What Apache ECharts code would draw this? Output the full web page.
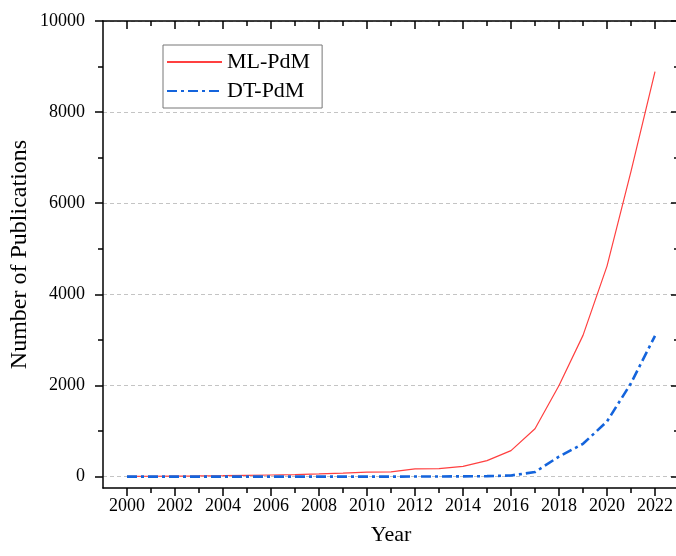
<!DOCTYPE html>
<html>
<head>
<meta charset="utf-8">
<script src="https://cdn.jsdelivr.net/npm/echarts@6/dist/echarts.min.js"></script>
<style>
html,body{margin:0;padding:0;background:#fff;}
#chart{width:676px;height:556px;}
</style>
</head>
<body>
<div id="chart"></div>
<script>
var years = [2000,2001,2002,2003,2004,2005,2006,2007,2008,2009,2010,2011,2012,2013,2014,2015,2016,2017,2018,2019,2020,2021,2022];
var mlPdM = [5,8,12,15,20,28,35,45,60,78,100,105,170,175,225,350,570,1050,2000,3100,4620,6700,8890];
var dtPdM = [0,0,0,0,0,0,0,0,0,0,0,0,2,3,5,10,25,100,440,720,1210,2050,3090];
var xMajorTicks = [2000,2002,2004,2006,2008,2010,2012,2014,2016,2018,2020,2022];
var xMinorTicks = [2001,2003,2005,2007,2009,2011,2013,2015,2017,2019,2021];
var yMajorTicks = [0,2000,4000,6000,8000,10000];
var yMinorTicks = [1000,3000,5000,7000,9000];

var FONT = '"Liberation Serif", "DejaVu Serif", serif';
var BLACK = '#000';

function pairs(xs, ys){ return xs.map(function(x,i){ return [x, ys[i]]; }); }
function plain(v){ return String(v); }

function xAxisDef(pos, ticks, len, inside, main){
  return {
    type:'value', gridIndex:0, position:pos, min:1999, max:2023,
    axisLine:{show:!!main, onZero:false, lineStyle:{color:BLACK,width:1.5}},
    axisTick:{show:true, inside:inside, length:len, customValues:ticks, lineStyle:{color:BLACK,width:1.5}},
    axisLabel: (main && pos==='bottom') ? {show:true, customValues:ticks, formatter:plain, color:BLACK, fontFamily:FONT, fontSize:18, margin:9} : {show:false},
    splitLine:{show:false},
    name: (main && pos==='bottom') ? 'Year' : '',
    nameLocation:'middle', nameGap:36, nameMoveOverlap:false,
    nameTextStyle:{color:BLACK, fontFamily:FONT, fontSize:22}
  };
}
function yAxisDef(pos, ticks, len, inside, main){
  var isLeftMain = main && pos==='left';
  return {
    type:'value', gridIndex:0, position:pos, min:-250, max:10000,
    axisLine:{show:!!main, onZero:false, lineStyle:{color:BLACK,width:1.5}},
    axisTick:{show:true, inside:inside, length:len, customValues:ticks, lineStyle:{color:BLACK,width:1.5}},
    axisLabel: isLeftMain ? {show:true, customValues:ticks, formatter:plain, color:BLACK, fontFamily:FONT, fontSize:18, margin:18} : {show:false},
    splitLine: isLeftMain ? {show:true, lineStyle:{color:'#c4c4c4', width:1, type:[4,3]}} : {show:false},
    name: isLeftMain ? 'Number of Publications' : '',
    nameLocation:'middle', nameGap:71, nameMoveOverlap:false,
    nameTextStyle:{color:BLACK, fontFamily:FONT, fontSize:24}
  };
}

var chart = echarts.init(document.getElementById('chart'), null, {renderer:'canvas'});
chart.setOption({
  backgroundColor:'#fff',
  animation:false,
  grid:{left:103, top:21, width:576, height:467, containLabel:false, outerBoundsMode:'none'},
  legend:{
    data:['ML-PdM','DT-PdM'], orient:'vertical', left:163, top:45,
    itemWidth:55, itemHeight:14, itemGap:7,
    padding:[6,12,6,3],
    borderColor:'#777', borderWidth:1, borderRadius:0,
    itemStyle:{opacity:0},
    textStyle:{color:BLACK, fontFamily:FONT, fontSize:22}
  },
  xAxis:[
    xAxisDef('bottom', xMajorTicks, 8, false, true),
    xAxisDef('bottom', xMinorTicks, 5, false, false),
    xAxisDef('top', xMajorTicks, 8, true, true),
    xAxisDef('top', xMinorTicks, 5, true, false)
  ],
  yAxis:[
    yAxisDef('left', yMajorTicks, 8, false, true),
    yAxisDef('left', yMinorTicks, 5, false, false),
    yAxisDef('right', yMajorTicks, 8, true, true),
    yAxisDef('right', yMinorTicks, 5, true, false)
  ],
  series:[
    {name:'ML-PdM', type:'line', xAxisIndex:0, yAxisIndex:0, data:pairs(years, mlPdM),
     symbol:'none', showSymbol:false, color:'#ff4040',
     lineStyle:{color:'#ff4040', width:1.2}},
    {name:'DT-PdM', type:'line', xAxisIndex:0, yAxisIndex:0, data:pairs(years, dtPdM),
     symbol:'none', showSymbol:false, color:'#1464dc',
     lineStyle:{color:'#1464dc', width:2.6, type:[10,4,3,4]}}
  ]
});
</script>
</body>
</html>
